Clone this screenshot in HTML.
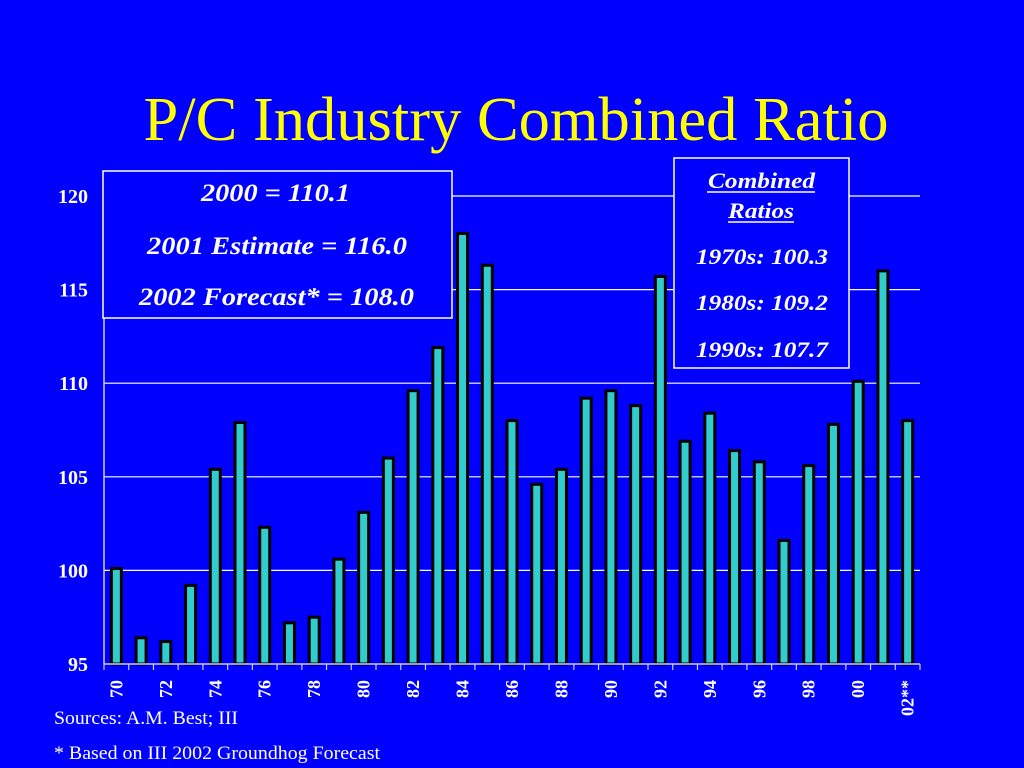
<!DOCTYPE html>
<html><head><meta charset="utf-8">
<style>
html,body{margin:0;padding:0;background:#0000ff;}
svg{display:block;}
</style></head>
<body>
<svg id="chart" width="1024" height="768" viewBox="0 0 1024 768" xmlns="http://www.w3.org/2000/svg">
<rect width="1024" height="768" fill="#0000ff"/>
<text x="516" y="140" text-anchor="middle" font-family="Liberation Serif, serif" font-size="62" fill="#ffff00" textLength="745" lengthAdjust="spacingAndGlyphs">P/C Industry Combined Ratio</text>
<g id="grid"></g>
<g id="bars"></g>
<g id="axes"></g>
<g font-family="Liberation Serif, serif" font-weight="bold" font-style="italic" fill="#fff">
<rect x="103" y="171" width="349" height="147" fill="#0000ff" stroke="#ffffff" stroke-width="1.5"/>
<text x="201" y="201" font-size="25" textLength="149" lengthAdjust="spacingAndGlyphs">2000 = 110.1</text>
<text x="147" y="254" font-size="25" textLength="260" lengthAdjust="spacingAndGlyphs">2001 Estimate = 116.0</text>
<text x="139" y="305" font-size="25" textLength="275" lengthAdjust="spacingAndGlyphs">2002 Forecast* = 108.0</text>
</g>
<g font-family="Liberation Serif, serif" font-weight="bold" font-style="italic" fill="#fff">
<rect x="674" y="158" width="175" height="210" fill="#0000ff" stroke="#ffffff" stroke-width="1.5"/>
<text x="708" y="188" font-size="22" textLength="107" lengthAdjust="spacingAndGlyphs">Combined</text>
<line x1="707" y1="192" x2="815" y2="192" stroke="#fff" stroke-width="1.5"/>
<text x="728" y="218" font-size="22" textLength="66" lengthAdjust="spacingAndGlyphs">Ratios</text>
<line x1="728" y1="222" x2="794" y2="222" stroke="#fff" stroke-width="1.5"/>
<text x="696" y="264" font-size="22" textLength="132" lengthAdjust="spacingAndGlyphs">1970s: 100.3</text>
<text x="696" y="310" font-size="22" textLength="132" lengthAdjust="spacingAndGlyphs">1980s: 109.2</text>
<text x="696" y="357" font-size="22" textLength="132" lengthAdjust="spacingAndGlyphs">1990s: 107.7</text>
</g>
<text x="54" y="724" font-family="Liberation Serif, serif" font-size="19" fill="#fff" textLength="184" lengthAdjust="spacingAndGlyphs">Sources: A.M. Best; III</text>
<text x="54" y="759" font-family="Liberation Serif, serif" font-size="19" fill="#fff" textLength="326" lengthAdjust="spacingAndGlyphs">* Based on III 2002 Groundhog Forecast</text>
</svg>
<script>
const categories = ["70","71","72","73","74","75","76","77","78","79","80","81","82","83","84","85","86","87","88","89","90","91","92","93","94","95","96","97","98","99","00","01","02**"];
const values = [100.1,96.4,96.2,99.2,105.4,107.9,102.3,97.2,97.5,100.6,103.1,106.0,109.6,111.9,118.0,116.3,108.0,104.6,105.4,109.2,109.6,108.8,115.7,106.9,108.4,106.4,105.8,101.6,105.6,107.8,110.1,116.0,108.0];
const yTicks = [95,100,105,110,115,120];
const shownLabels = ["70","72","74","76","78","80","82","84","86","88","90","92","94","96","98","00","02**"];

const NS="http://www.w3.org/2000/svg";
const x0=104, x1=920, yMin=95, yMax=120, yBot=664, yTop=196;
const band=(x1-x0)/categories.length;
function xScale(i){return x0+band*(i+0.5);}
function yScale(v){return yBot-(v-yMin)/(yMax-yMin)*(yBot-yTop);}
function mk(tag,attrs,parent){const e=document.createElementNS(NS,tag);for(const k in attrs)e.setAttribute(k,attrs[k]);parent.appendChild(e);return e;}
const grid=document.getElementById('grid'),bars=document.getElementById('bars'),axes=document.getElementById('axes');
yTicks.forEach(t=>{
  const y=yScale(t);
  if(t>yMin){const l=mk('line',{x1:x0,x2:x1,y1:y,y2:y,stroke:'#ffffff','stroke-width':1.2},grid);
  
  }
  const tx=mk('text',{x:88,y:y+7,'text-anchor':'end','font-family':'Liberation Serif, serif','font-size':20,'font-weight':'bold',fill:'#fff'},axes);
  tx.textContent=t;
  
  
});
values.forEach((v,i)=>{
  const cx=xScale(i),w=10,y=yScale(v);
  const r=mk('rect',{x:cx-w/2,y:y,width:w,height:yBot-y,fill:'#33cccc',stroke:'#000','stroke-width':3},bars);
  
  
});
const ax=mk('line',{x1:x0,x2:x0,y1:yTop-8,y2:yBot,stroke:'#ccccff','stroke-width':1.5},axes);


const bx=mk('line',{x1:x0,x2:x1,y1:yBot,y2:yBot,stroke:'#ccccff','stroke-width':1.5},axes);


for(let i=0;i<=categories.length;i++){
  const x=x0+band*i;
  const t=mk('line',{x1:x,x2:x,y1:yBot,y2:yBot+6,stroke:'#ccccff','stroke-width':1.2},axes);
  
  
}
categories.forEach((c,i)=>{
  if(shownLabels.indexOf(c)<0)return;
  const x=xScale(i),y=yBot+16;
  const t=mk('text',{x:x,y:y,transform:'rotate(-90 '+x+' '+y+')','text-anchor':'end','dominant-baseline':'central','font-family':'Liberation Serif, serif','font-size':18,'font-weight':'bold',fill:'#fff'},axes);
  t.textContent=c;
  
  
});
</script>
</body></html>
